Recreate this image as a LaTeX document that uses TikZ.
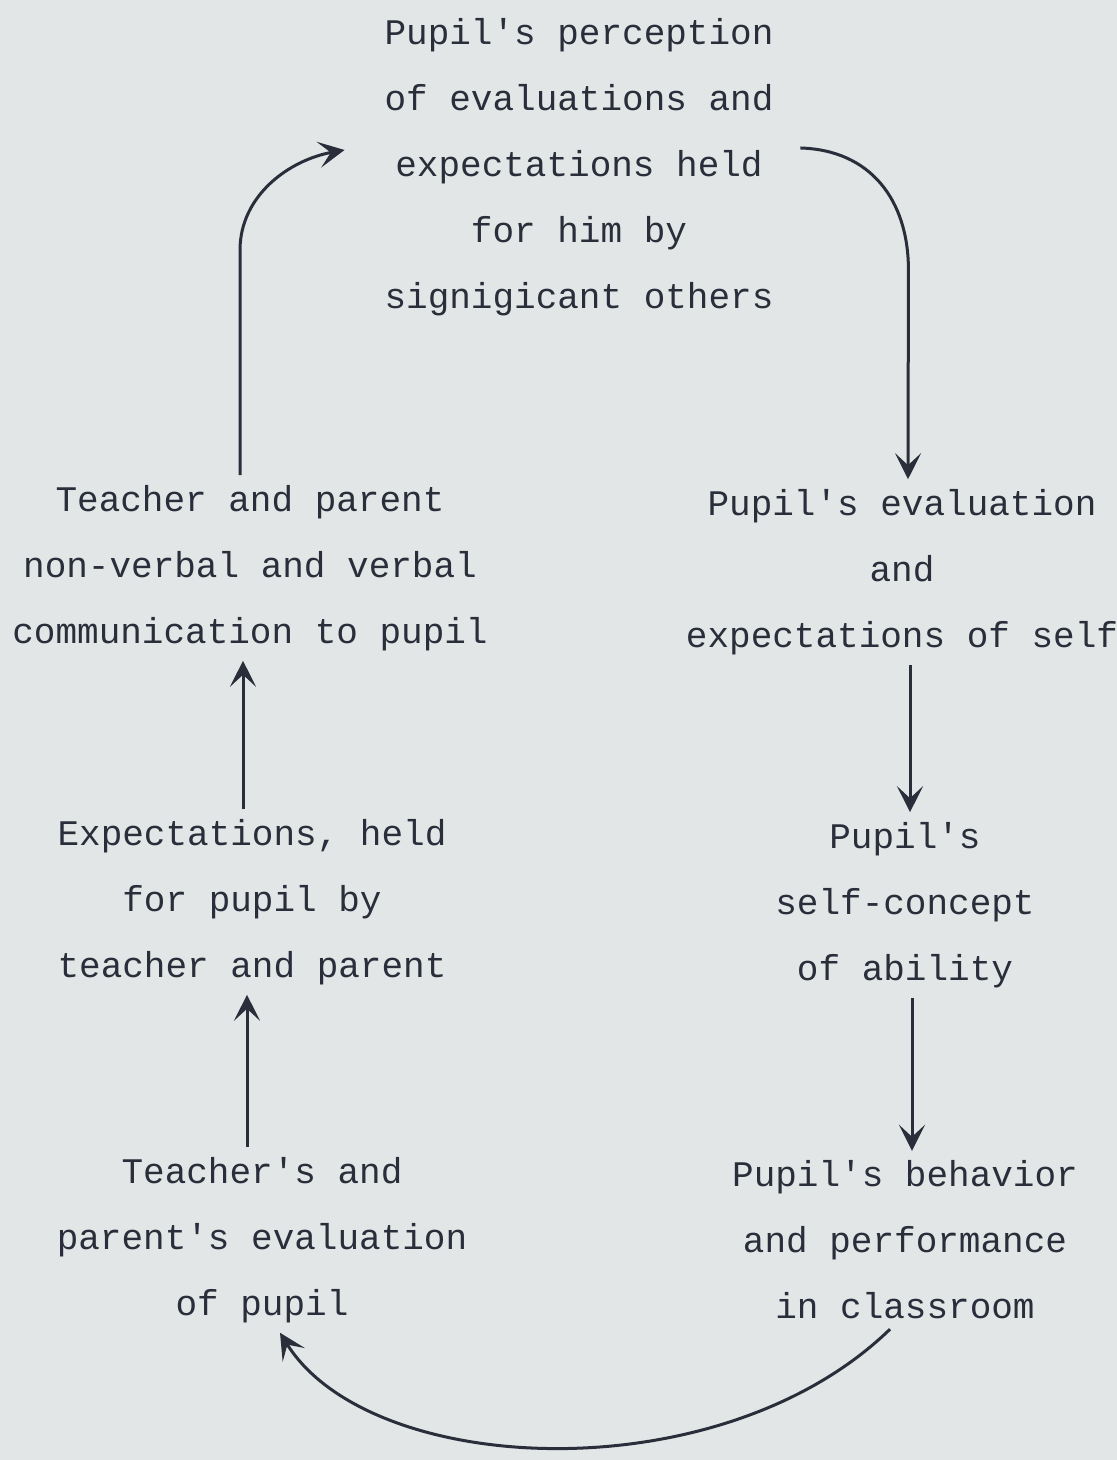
\documentclass[tikz,border=0pt]{standalone}
\usepackage{fontspec}
\setmainfont{Liberation Mono}
\usepackage{tikz}
\usetikzlibrary{arrows.meta, positioning}
\definecolor{paper}{RGB}{227,230,230}
\definecolor{ink}{RGB}{42,46,58}
\newcommand{\ap}{\textquotesingle}

\begin{document}
\begin{tikzpicture}
  [
    x=1pt, y=1pt,
    Stage/.style={align=center, text=ink, inner sep=0pt, outer sep=10pt,
      font=\fontsize{36}{66}\selectfont},
    Link/.style={draw=ink, line width=3pt,
      -{Stealth[length=26pt, width=26pt, inset=12pt]}}
  ]
  \fill[paper] (0,0) rectangle (1117,1460);
  \useasboundingbox (0,0) rectangle (1117,1460);
  % Nodes
  \node[Stage] (perc) at (579, 1293) {Pupil\ap s perception\\of evaluations and\\expectations held\\for him by\\signigicant others};
  \node[Stage] (tcomm) at (250, 892) {Teacher and parent\\non-verbal and verbal\\communication to pupil};
  \node[Stage] (peval) at (902, 888) {Pupil\ap s evaluation\\and\\expectations of self};
  \node[Stage] (texp) at (252, 558) {Expectations, held\\for pupil by\\teacher and parent};
  \node[Stage] (pself) at (905, 555) {Pupil\ap s\\self-concept\\of ability};
  \node[Stage] (teval) at (262, 220) {Teacher\ap s and\\parent\ap s evaluation\\of pupil};
  \node[Stage] (pbeh) at (905, 220) {Pupil\ap s behavior\\and performance\\in classroom};
  % Lines
  \path [Link] ([xshift=-10pt]tcomm.north) -- ++(0,225)
    .. controls +(0,55) and +(-55,-10) .. ([xshift=-30pt,yshift=17pt]perc.west);
  \path [Link] ([xshift=17pt,yshift=19pt]perc.east)
    .. controls +(70,-2) and +(0,70) .. ++(108,-122) -- ([xshift=6pt]peval.north);
  \path [Link] ([xshift=8pt]peval.south) -- ([xshift=5pt]pself.north);
  \path [Link] ([xshift=7pt]pself.south) -- ([xshift=7pt]pbeh.north);
  \path [Link] ([xshift=-15pt]pbeh.south)
    .. controls +(-170,-165) and +(90,-145) .. ([xshift=18pt]teval.south);
  \path [Link] ([xshift=-15pt]teval.north) -- ([xshift=-5pt]texp.south);
  \path [Link] ([xshift=-9pt]texp.north) -- ([xshift=-7pt]tcomm.south);
\end{tikzpicture}
\end{document}
